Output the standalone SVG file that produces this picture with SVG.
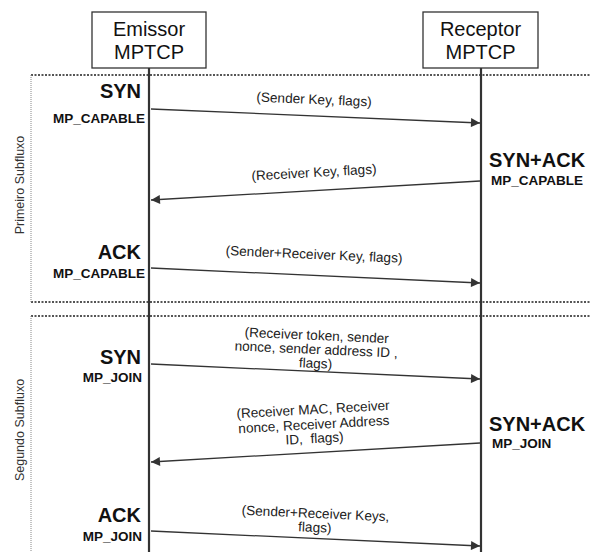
<svg xmlns="http://www.w3.org/2000/svg" width="590" height="552" viewBox="0 0 590 552">
<defs>
<style>
.box{fill:#fff;stroke:#333;stroke-width:1.3}
.life{stroke:#333;stroke-width:2.2;fill:none}
.hdr{font-family:"Liberation Sans",Arial,sans-serif;font-size:20px;fill:#111;text-anchor:middle}
.big{font-family:"Liberation Sans",Arial,sans-serif;font-size:20px;font-weight:bold;fill:#111}
.sm{font-family:"Liberation Sans",Arial,sans-serif;font-size:13.5px;font-weight:bold;fill:#111}
.lbl{font-family:"Liberation Sans",Arial,sans-serif;font-size:13.6px;fill:#222;text-anchor:middle}
.side{font-family:"Liberation Sans",Arial,sans-serif;font-size:12.5px;fill:#333;text-anchor:middle}
.msg{stroke:#333;stroke-width:1.3;fill:none;marker-end:url(#ah)}
.dotH{stroke:#555;stroke-width:2;stroke-dasharray:2 1.5;fill:none}
.dotV{stroke:#888;stroke-width:1;stroke-dasharray:1 1;fill:none}
</style>
<marker id="ah" viewBox="0 0 10 10" refX="10" refY="5" markerWidth="10" markerHeight="9" markerUnits="userSpaceOnUse" orient="auto">
<path d="M0,0 L10,5 L0,10 z" fill="#333"/>
</marker>
</defs>

<g id="frames">
<line class="dotH" x1="31" y1="75" x2="590" y2="75"/>
<line class="dotH" x1="31" y1="302" x2="590" y2="302"/>
<line class="dotV" x1="31" y1="75" x2="31" y2="302"/>
<line class="dotH" x1="31" y1="316" x2="590" y2="316"/>
<line class="dotV" x1="31" y1="316" x2="31" y2="552"/>
<text class="side" transform="translate(24,185) rotate(-90)">Primeiro Subfluxo</text>
<text class="side" transform="translate(24,430) rotate(-90)">Segundo Subfluxo</text>
</g>

<g id="emissor">
<line class="life" x1="149" y1="68" x2="149" y2="552"/>
<rect class="box" x="92" y="12" width="114" height="56"/>
<text class="hdr" x="149" y="36">Emissor</text>
<text class="hdr" x="149" y="59">MPTCP</text>
</g>

<g id="receptor">
<line class="life" x1="481" y1="68" x2="481" y2="552"/>
<rect class="box" x="423" y="12" width="115" height="56"/>
<text class="hdr" x="480.5" y="36">Receptor</text>
<text class="hdr" x="480.5" y="59">MPTCP</text>
</g>

<g id="labels-left">
<text class="big" x="141" y="98" text-anchor="end">SYN</text>
<text class="sm" x="145" y="123" text-anchor="end">MP_CAPABLE</text>
<text class="big" x="141" y="259" text-anchor="end">ACK</text>
<text class="sm" x="145" y="278" text-anchor="end">MP_CAPABLE</text>
<text class="big" x="141" y="364" text-anchor="end">SYN</text>
<text class="sm" x="142" y="382" text-anchor="end">MP_JOIN</text>
<text class="big" x="141" y="522" text-anchor="end">ACK</text>
<text class="sm" x="142" y="541" text-anchor="end">MP_JOIN</text>
</g>

<g id="labels-right">
<text class="big" x="489" y="167">SYN+ACK</text>
<text class="sm" x="491" y="185">MP_CAPABLE</text>
<text class="big" x="489" y="431">SYN+ACK</text>
<text class="sm" x="492" y="448">MP_JOIN</text>
</g>

<g id="connectors">
<line class="msg" x1="151" y1="109" x2="480" y2="123"/>
<line class="msg" x1="480" y1="181" x2="151" y2="200"/>
<line class="msg" x1="151" y1="268" x2="480" y2="283"/>
<line class="msg" x1="151" y1="364" x2="480" y2="379"/>
<line class="msg" x1="480" y1="443" x2="151" y2="462"/>
<line class="msg" x1="151" y1="531" x2="480" y2="546"/>
</g>

<g id="message-labels">
<text class="lbl" x="314" y="104" transform="rotate(2.4 314 100)">(Sender Key, flags)</text>
<text class="lbl" x="314" y="177" transform="rotate(-3.2 314 173)">(Receiver Key, flags)</text>
<text class="lbl" x="314" y="259" transform="rotate(2.5 314 255)">(Sender+Receiver Key, flags)</text>
<g transform="rotate(2.5 316 352)">
<text class="lbl" x="316" y="340">(Receiver token, sender</text>
<text class="lbl" x="316" y="354">nonce, sender address ID ,</text>
<text class="lbl" x="316" y="368">flags)</text>
</g>
<g transform="rotate(-3.2 314 428)">
<text class="lbl" x="314" y="414">(Receiver MAC, Receiver</text>
<text class="lbl" x="314" y="429">nonce, Receiver Address</text>
<text class="lbl" x="314" y="443">ID,&#160; flags)</text>
</g>
<g transform="rotate(2.5 315 524)">
<text class="lbl" x="315" y="518">(Sender+Receiver Keys,</text>
<text class="lbl" x="315" y="532">flags)</text>
</g>
</g>
</svg>
